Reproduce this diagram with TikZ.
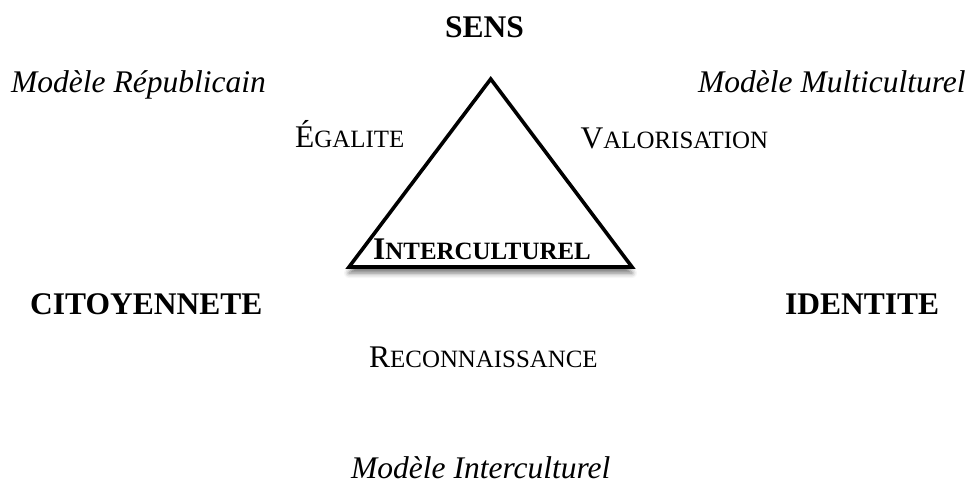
\documentclass[tikz,border=0pt]{standalone}
\usepackage{fontspec}
\setmainfont{Liberation Serif}
\usetikzlibrary{shadows.blur}
\newcommand\bigsz{\fontsize{31.5}{36}\selectfont}
\newcommand\fakesc[2]{#1{\fontsize{24.9}{28}\selectfont #2}}
\tikzset{
  lbl/.style={inner sep=0pt, anchor=base west, font=\bigsz},
  pole/.style={lbl, font=\bigsz\bfseries},
  model/.style={lbl, font=\bigsz\itshape},
  tri/.style={draw=black, fill=white, line width=3.6pt, line join=miter,
    blur shadow={shadow xshift=0pt, shadow yshift=-6pt, shadow blur radius=5pt, shadow opacity=55}},
}
\begin{document}
\begin{tikzpicture}[x=1pt, y=-1pt]
\useasboundingbox (0,0) rectangle (973,484);
\coordinate (top) at (490.7,79);
\coordinate (bl) at (349,267);
\coordinate (br) at (632,267);
\path[tri] (top) -- (br) -- (bl) -- cycle;

\node[pole] (sens) at (445,37.7) {SENS};
\node[pole] (cit) at (30,314) {CITOYENNETE};
\node[pole] (ident) at (785,314) {IDENTITE};

\node[model] (rep) at (11,92.3) {Modèle Républicain};
\node[model] (multi) at (698,92.3) {Modèle Multiculturel};
\node[model] (inter) at (351,478) {Modèle Interculturel};

\node[lbl] (ega) at (295,147) {\fakesc{É}{GALITE}};
\node[lbl] (val) at (580.5,148) {\fakesc{V}{ALORISATION}};
\node[lbl] (rec) at (369,367.7) {\fakesc{R}{ECONNAISSANCE}};
\node[lbl, font=\bigsz\bfseries] (intc) at (373,259) {\fakesc{I}{NTERCULTUREL}};
\end{tikzpicture}
\end{document}
